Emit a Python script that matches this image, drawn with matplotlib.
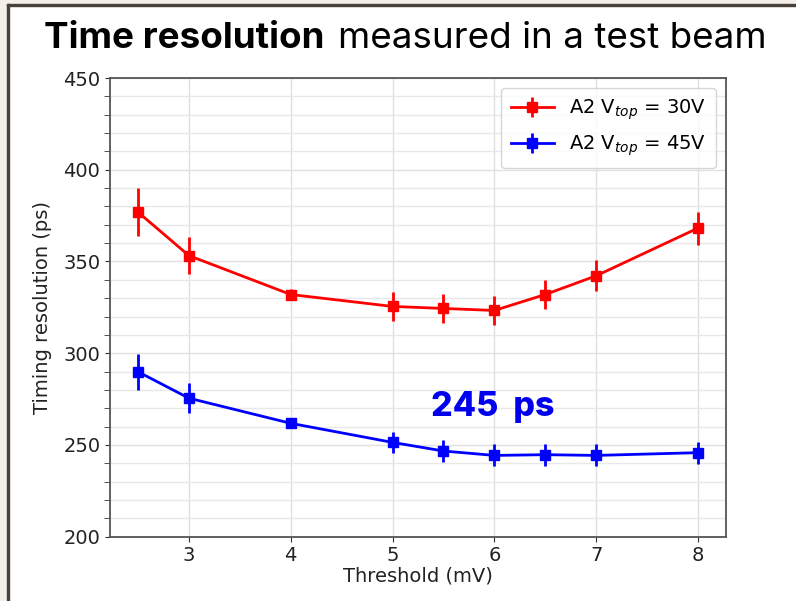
import numpy as np
import matplotlib
matplotlib.use('Agg')
import matplotlib.pyplot as plt
from matplotlib.ticker import MultipleLocator
from matplotlib.patches import Rectangle

# threshold (mV) and timing resolution (ps)
threshold = [2.5, 3, 4, 5, 5.5, 6, 6.5, 7, 8]
res_30v = [376.9, 353.2, 332.0, 325.5, 324.4, 323.3, 332.0, 342.2, 368.2]
err_30v = [13, 10, 3, 7.8, 8, 8, 8, 8.5, 9]
res_45v = [289.9, 275.5, 261.8, 251.4, 246.7, 244.3, 244.7, 244.3, 245.8]
err_45v = [9.9, 8, 2, 5.7, 6, 6, 6, 6, 6]

fig = plt.figure(figsize=(7.96, 6.01), dpi=100)
fig.patch.set_facecolor('white')

# slide frame (beige margin + dark border on left and top)
fig.patches.append(Rectangle((0, 0), 7 / 796, 1, transform=fig.transFigure,
                             color='#f3f0ea', zorder=0))
fig.patches.append(Rectangle((0, 1 - 4 / 601), 1, 4 / 601, transform=fig.transFigure,
                             color='#f3f0ea', zorder=0))
fig.patches.append(Rectangle((7 / 796, 0), 2.2 / 796, 1 - 4 / 601, transform=fig.transFigure,
                             color='#4a403a', zorder=1))
fig.patches.append(Rectangle((7 / 796, 1 - 6.2 / 601), 1, 2.2 / 601, transform=fig.transFigure,
                             color='#4a403a', zorder=1))

ax = fig.add_axes([110 / 796, 1 - 536.7 / 601, 616 / 796, 458.7 / 601])

ax.errorbar(threshold, res_30v, yerr=err_30v, color='red', marker='s', markersize=7,
            linewidth=2, elinewidth=2, capsize=0, label='A2 V$_{top}$ = 30V')
ax.errorbar(threshold, res_45v, yerr=err_45v, color='blue', marker='s', markersize=7,
            linewidth=2, elinewidth=2, capsize=0, label='A2 V$_{top}$ = 45V')

ax.set_ylim(200, 450)
ax.yaxis.set_major_locator(MultipleLocator(50))
ax.yaxis.set_minor_locator(MultipleLocator(10))
ax.grid(True, which='major', color='#e0e0e0', linewidth=1)
ax.grid(True, which='minor', axis='y', color='#e8e8e8', linewidth=1)
ax.set_axisbelow(True)

for sp in ax.spines.values():
    sp.set_color('#555555')
    sp.set_linewidth(1.3)
ax.tick_params(which='both', color='#333333', labelsize=14, labelcolor='#222222')
ax.tick_params(which='minor', length=4)

ax.set_xlabel('Threshold (mV)', fontsize=14, color='#222222', labelpad=1)
ax.set_ylabel('Timing resolution (ps)', fontsize=14, color='#222222', labelpad=8)

leg = ax.legend(loc='upper right', fontsize=14, handlelength=2.2, borderpad=0.5,
                labelspacing=0.6, handletextpad=0.8)
leg.get_frame().set_edgecolor('#cccccc')

ax.text(5.38, 266, '245  ps', color='#0000ee', fontsize=24.5, fontweight='heavy',
        family='Inter', ha='left', va='baseline')

# title: bold part followed by regular part
t1 = fig.text(44 / 796, 1 - 48 / 601, 'Time resolution', fontsize=26.5, fontweight='bold',
              family='Inter', color='black', ha='left', va='baseline')
fig.canvas.draw()
bb = t1.get_window_extent()
fig.text(bb.x1 / 796 + 14 / 796, 1 - 48 / 601, 'measured in a test beam', fontsize=26.5,
         family='Inter', color='black', ha='left', va='baseline')

fig.savefig('out.png', dpi=100)
